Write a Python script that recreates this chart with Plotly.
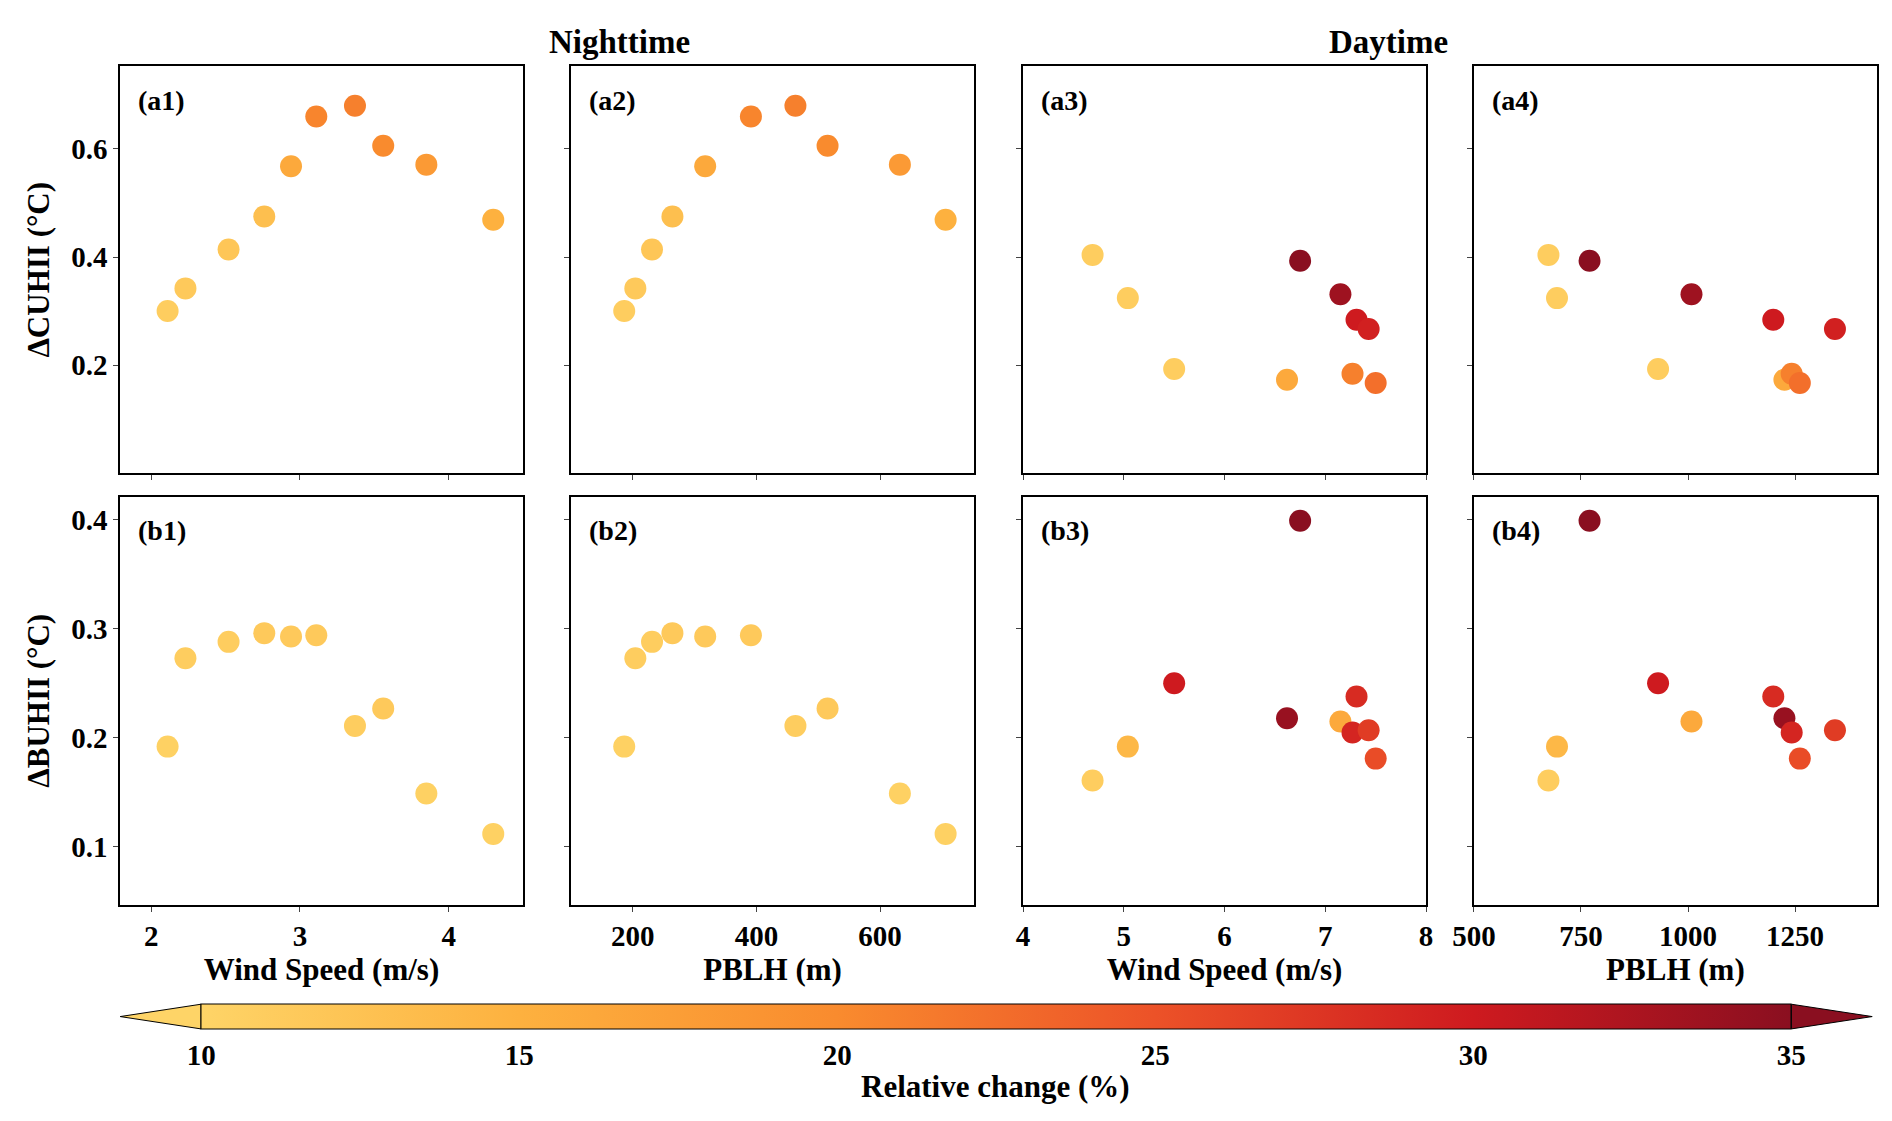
import plotly.graph_objects as go

ws_night = [2.11, 2.23, 2.52, 2.76, 2.94, 3.11, 3.37, 3.56, 3.85, 4.30]
pblh_night = [186, 204, 231, 264, 317, 391, 463, 515, 632, 706]
cuhii_night = [0.300, 0.342, 0.414, 0.475, 0.568, 0.660, 0.680, 0.606, 0.571, 0.469]
buhii_night = [0.192, 0.273, 0.288, 0.296, 0.293, 0.294, 0.211, 0.227, 0.149, 0.112]
rc_cuhii_night = [11.0, 11.5, 12.0, 13.0, 16.0, 20.5, 21.0, 20.0, 18.0, 15.0]
rc_buhii_night = [10.5, 11.0, 11.0, 11.5, 11.5, 11.5, 11.0, 11.5, 10.5, 10.5]

ws_day = [4.69, 5.04, 5.50, 6.62, 6.75, 7.15, 7.27, 7.31, 7.43, 7.50]
pblh_day = [674, 694, 930, 1225, 770, 1008, 1242, 1199, 1343, 1261]
cuhii_day = [0.404, 0.324, 0.193, 0.173, 0.393, 0.331, 0.184, 0.284, 0.267, 0.167]
buhii_day = [0.161, 0.192, 0.250, 0.218, 0.399, 0.215, 0.205, 0.238, 0.207, 0.181]
rc_cuhii_day = [11.0, 11.0, 11.0, 16.0, 35.0, 33.5, 21.0, 30.0, 29.5, 22.5]
rc_buhii_day = [11.0, 14.0, 30.0, 34.0, 35.0, 16.0, 29.0, 28.5, 27.0, 25.5]

cticks = [10, 15, 20, 25, 30, 35]
cscale = [[0.0, "#fed467"], [0.2, "#fdb13f"], [0.4, "#f98b2e"], [0.6, "#ec5228"],
          [0.8, "#ce1a1f"], [1.0, "#8a0f20"]]
FONT = "Liberation Serif"

fig = go.Figure()
xd = [[0.0592, 0.2722], [0.2976, 0.5106], [0.5365, 0.7495], [0.7748, 0.9878]]
yd = [[0.585, 0.948], [0.200, 0.564]]
xranges = [[1.79, 4.5], [100, 752], [4, 8], [500, 1441]]
xticks = [[2, 3, 4], [200, 400, 600], [4, 5, 6, 7, 8], [500, 750, 1000, 1250]]
xtitles = ["Wind Speed (m/s)", "PBLH (m)", "Wind Speed (m/s)", "PBLH (m)"]
yranges = [[0.0, 0.753], [0.047, 0.421]]
yticks = [[0.2, 0.4, 0.6], [0.1, 0.2, 0.3, 0.4]]
ytitles = ["ΔCUHII (°C)", "ΔBUHII (°C)"]
data = {
    (0, 0): (ws_night, cuhii_night, rc_cuhii_night),
    (0, 1): (pblh_night, cuhii_night, rc_cuhii_night),
    (0, 2): (ws_day, cuhii_day, rc_cuhii_day),
    (0, 3): (pblh_day, cuhii_day, rc_cuhii_day),
    (1, 0): (ws_night, buhii_night, rc_buhii_night),
    (1, 1): (pblh_night, buhii_night, rc_buhii_night),
    (1, 2): (ws_day, buhii_day, rc_buhii_day),
    (1, 3): (pblh_day, buhii_day, rc_buhii_day),
}
labels = [["(a1)", "(a2)", "(a3)", "(a4)"], ["(b1)", "(b2)", "(b3)", "(b4)"]]
tickfont = dict(family=FONT, size=29, color="black", weight="bold")
titlefont = dict(family=FONT, size=31, color="black", weight="bold")
BAR_L, BAR_R = 0.102, 0.9426
first = True
for r in range(2):
    for c in range(4):
        i = r * 4 + c + 1
        xs = "" if i == 1 else str(i)
        x, y, col = data[(r, c)]
        fig.add_trace(go.Scatter(
            x=x, y=y, mode="markers", xaxis="x" + xs, yaxis="y" + xs,
            marker=dict(size=22, color=col, cmin=10, cmax=35, colorscale=cscale,
                        showscale=first,
                        colorbar=dict(orientation="h", x=(BAR_L + BAR_R) / 2, xanchor="center",
                                      len=BAR_R - BAR_L, lenmode="fraction", y=0.1113, yanchor="top",
                                      thickness=25, outlinewidth=1, outlinecolor="black",
                                      xpad=0, ypad=0,
                                      tickvals=cticks, ticks="", tickfont=tickfont),
                        line=dict(width=0)),
            showlegend=False, hoverinfo="skip"))
        first = False
        fig.layout["xaxis" + xs] = dict(
            domain=xd[c], range=xranges[c], anchor="y" + xs, tickvals=xticks[c],
            showticklabels=(r == 1), ticks="outside", ticklen=5, showline=True,
            mirror=True, linecolor="black", linewidth=1.5, showgrid=False, zeroline=False,
            tickfont=tickfont, automargin=False,
            title=dict(text=xtitles[c], font=titlefont, standoff=6) if r == 1 else None)
        fig.layout["yaxis" + xs] = dict(
            domain=yd[r], range=yranges[r], anchor="x" + xs, tickvals=yticks[r],
            showticklabels=(c == 0), ticks="outside", ticklen=5, showline=True,
            mirror=True, linecolor="black", linewidth=1.5, showgrid=False, zeroline=False,
            tickfont=tickfont, automargin=False,
            title=dict(text=ytitles[r], font=titlefont, standoff=12) if c == 0 else None)
        fig.add_annotation(xref="x" + xs + " domain", yref="y" + xs + " domain", x=0.04, y=0.96,
                           xanchor="left", yanchor="top", showarrow=False,
                           text="<b>" + labels[r][c] + "</b>", font=dict(family=FONT, size=28))

for txt, xp in [("Nighttime", 0.285), ("Daytime", 0.762)]:
    fig.add_annotation(xref="paper", yref="paper", x=xp, y=0.952, yanchor="bottom",
                       showarrow=False, text="<b>" + txt + "</b>",
                       font=dict(family=FONT, size=33, color="black"))

fig.add_annotation(xref="paper", yref="paper", x=0.522, y=0.038, yanchor="middle",
                   showarrow=False, text="<b>Relative change (%)</b>",
                   font=dict(family=FONT, size=31, color="black"))

# colorbar extension triangles
fig.add_shape(type="path", xref="paper", yref="paper",
              path=f"M {BAR_L} 0.0893 L {BAR_L} 0.1113 L 0.0593 0.1003 Z",
              fillcolor="#fed467", line=dict(color="black", width=1))
fig.add_shape(type="path", xref="paper", yref="paper",
              path=f"M {BAR_R} 0.0893 L {BAR_R} 0.1113 L 0.9853 0.1003 Z",
              fillcolor="#8a0f20", line=dict(color="black", width=1))

fig.update_layout(width=1892, height=1121, plot_bgcolor="white", paper_bgcolor="white",
                  margin=dict(l=0, r=0, t=0, b=0), font=dict(family=FONT, color="black"))
fig.write_html("out.html")
